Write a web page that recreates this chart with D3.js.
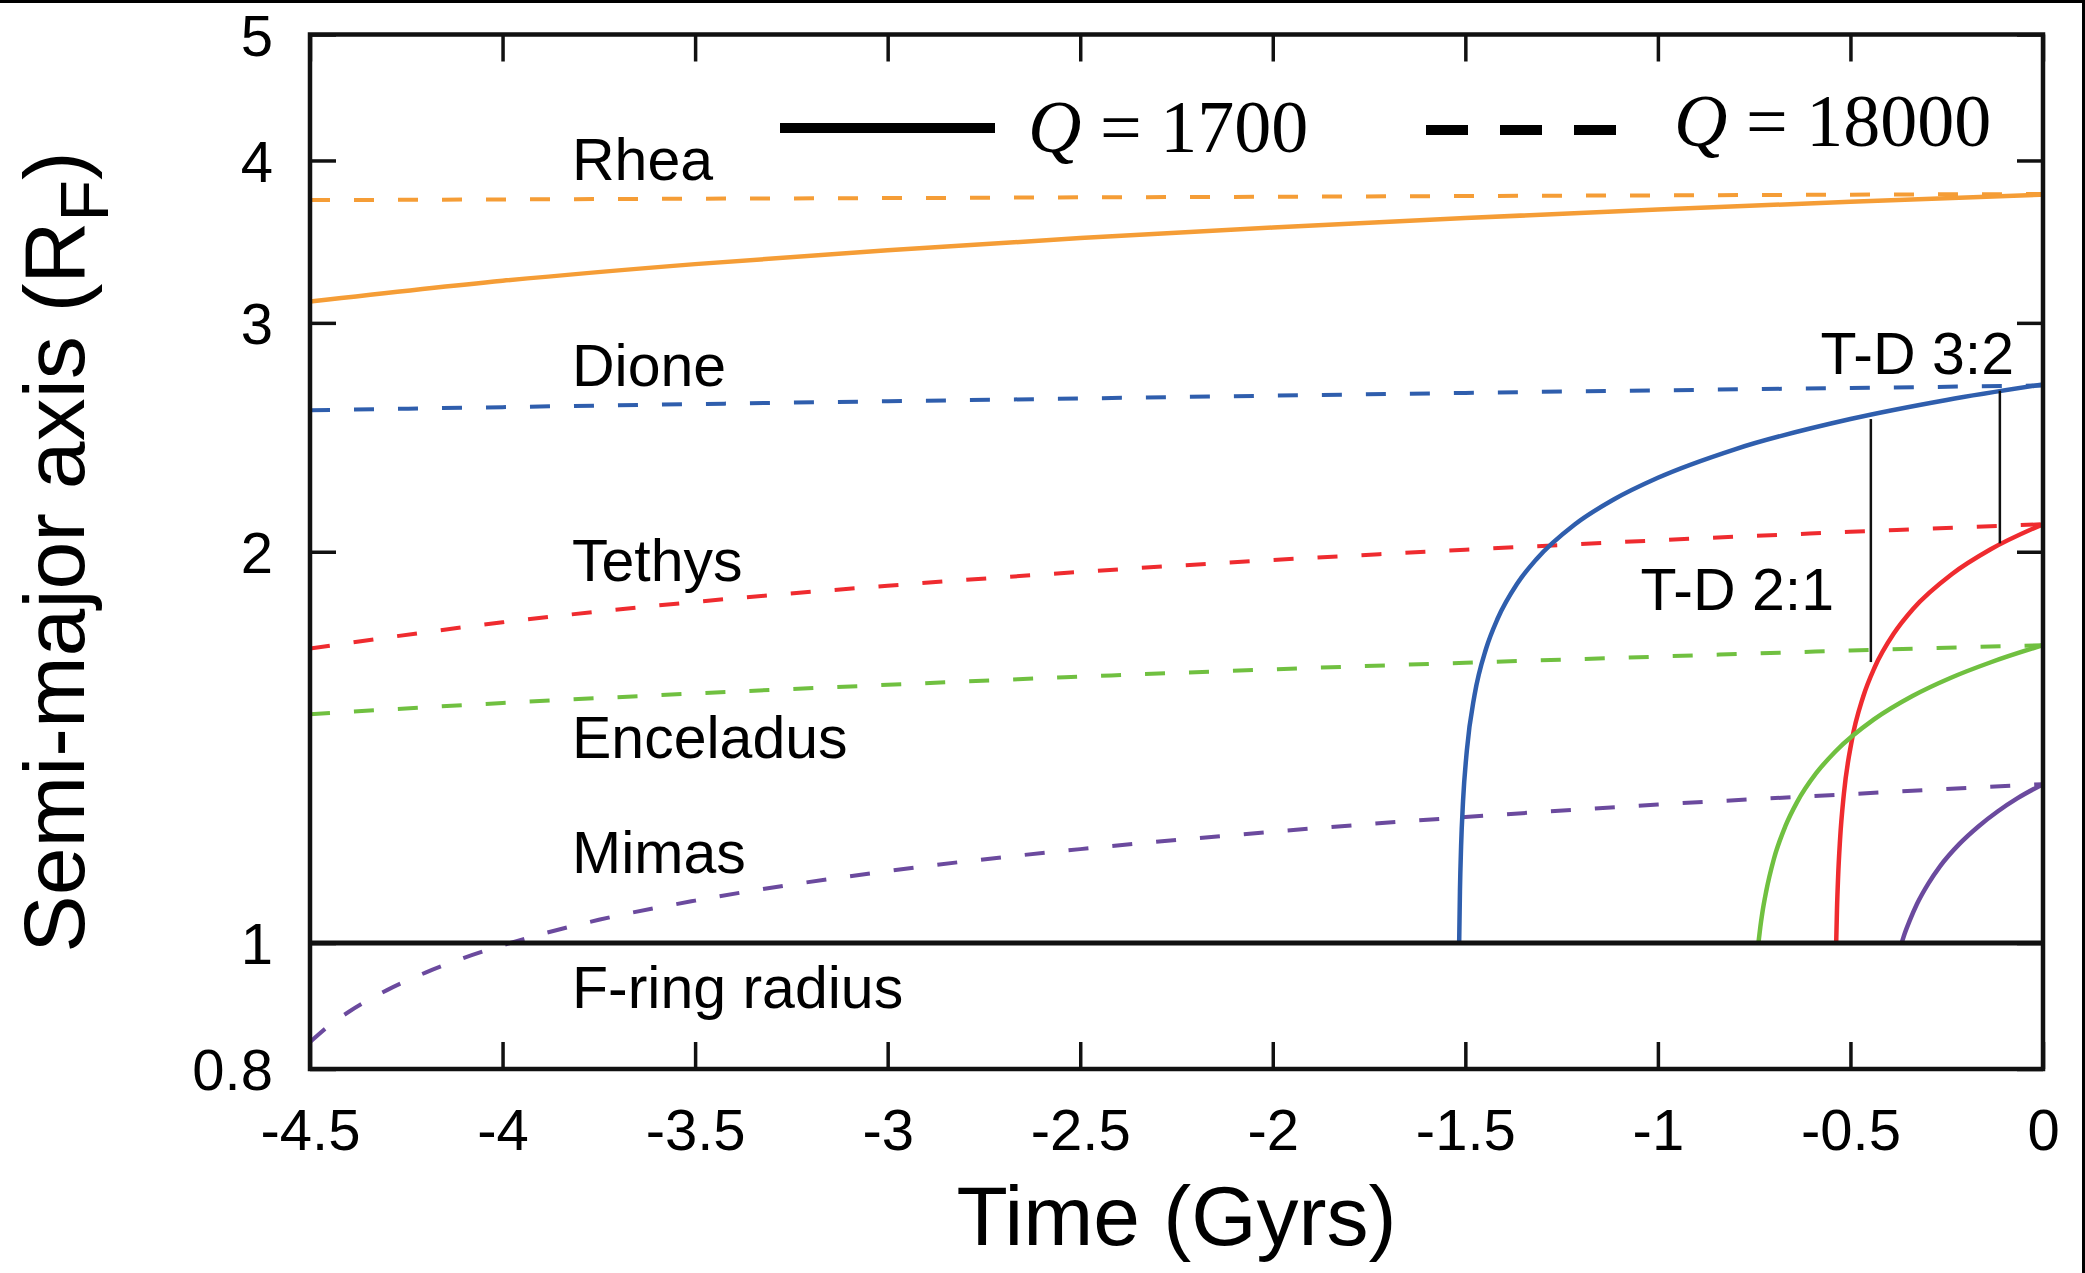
<!DOCTYPE html>
<html>
<head>
<meta charset="utf-8">
<script src="https://cdn.jsdelivr.net/npm/d3@7"></script>
<style>
  body { margin: 0; background: #fff; }
  svg { display: block; }
  text { font-family: "Liberation Sans", Arial, Helvetica, sans-serif; fill: #000; }
  .serif { font-family: "Liberation Serif", "Times New Roman", Times, serif; }
</style>
</head>
<body>
<div id="chart"></div>
<script>
// time grid (Gyrs) shared by the Q = 18000 runs and Rhea
const timeGrid = [-4.5, -4, -3.5, -3, -2.5, -2, -1.5, -1, -0.5, 0];
const timeTicks = [-4.5, -4, -3.5, -3, -2.5, -2, -1.5, -1, -0.5, 0];
const axisTicks = [0.8, 1, 2, 3, 4, 5];

const moonNames = ["Rhea", "Dione", "Tethys", "Enceladus", "Mimas"];
const moonColors = ["#f59d36", "#2f5ead", "#ef2b2f", "#70c040", "#6b4a9e"];

// Q = 18000 (dashed), semi-major axis in F-ring radii
const rheaSlow      = [3.729, 3.733, 3.738, 3.742, 3.747, 3.751, 3.756, 3.760, 3.765, 3.769];
const dioneSlow     = [2.570, 2.584, 2.598, 2.611, 2.624, 2.637, 2.650, 2.662, 2.673, 2.685];
const tethysSlow    = [1.685, 1.765, 1.830, 1.883, 1.930, 1.971, 2.007, 2.041, 2.072, 2.100];
const enceladusSlow = [1.500, 1.530, 1.556, 1.580, 1.603, 1.624, 1.643, 1.661, 1.679, 1.695];
const mimasSlowT    = [-4.5, -4.45, -4.4, -4.3, -4.2, -4.1, -4, -3.75, -3.5, -3, -2.5, -2, -1.5, -1, -0.5, 0];
const mimasSlow     = [0.839, 0.864, 0.885, 0.920, 0.949, 0.974, 0.996, 1.042, 1.078, 1.136, 1.181, 1.218, 1.250, 1.278, 1.302, 1.325];

// Q = 1700 (solid)
const rheaFast = [3.115, 3.232, 3.329, 3.412, 3.486, 3.552, 3.612, 3.667, 3.718, 3.765];
const dioneFastT = [-1.516, -1.514, -1.511, -1.506, -1.496, -1.476, -1.446, -1.416, -1.366, -1.316, -1.216, -1.116, -1.0, -0.8, -0.5, -0.25, 0];
const dioneFast  = [1.0, 1.096, 1.187, 1.285, 1.407, 1.552, 1.685, 1.777, 1.889, 1.973, 2.099, 2.193, 2.280, 2.398, 2.530, 2.617, 2.690];
const tethysFastT = [-0.537, -0.535, -0.532, -0.527, -0.517, -0.497, -0.467, -0.437, -0.387, -0.337, -0.237, -0.137, 0];
const tethysFast  = [1.0, 1.060, 1.125, 1.201, 1.303, 1.429, 1.547, 1.630, 1.731, 1.808, 1.922, 2.008, 2.100];
const enceladusFastT = [-0.739, -0.734, -0.729, -0.719, -0.699, -0.669, -0.639, -0.589, -0.539, -0.439, -0.339, -0.239, -0.139, 0];
const enceladusFast  = [1.0, 1.029, 1.054, 1.095, 1.160, 1.230, 1.283, 1.351, 1.404, 1.486, 1.549, 1.600, 1.643, 1.695];
const mimasFastT = [-0.367, -0.362, -0.357, -0.347, -0.327, -0.297, -0.267, -0.217, -0.167, -0.117, -0.067, 0];
const mimasFast  = [1.0, 1.011, 1.021, 1.039, 1.072, 1.112, 1.146, 1.192, 1.230, 1.263, 1.292, 1.325];

// Tethys-Dione resonance crossings
const resonanceNames = ["T-D 2:1", "T-D 3:2"];
const resonanceT = [-0.447, -0.112];
const resonanceHi = [2.53, 2.66];
const resonanceLo = [1.645, 2.03];

const fRingRadius = 1;
const legendQ = [1700, 18000];

const width = 2085, height = 1273;
const plot = { left: 310, right: 2043, top: 34.5, bottom: 1069 };

const svg = d3.select("#chart").append("svg")
  .attr("width", width)
  .attr("height", height);

const x = d3.scaleLinear().domain([-4.5, 0]).range([plot.left, plot.right]);
const y = d3.scaleLog().domain([0.8, 5]).range([plot.bottom, plot.top]);

svg.append("clipPath").attr("id", "clip")
  .append("rect")
  .attr("x", plot.left).attr("y", plot.top)
  .attr("width", plot.right - plot.left)
  .attr("height", plot.bottom - plot.top);

const series = [
  { slow: d3.zip(timeGrid, rheaSlow),       fast: d3.zip(timeGrid, rheaFast) },
  { slow: d3.zip(timeGrid, dioneSlow),      fast: d3.zip(dioneFastT, dioneFast) },
  { slow: d3.zip(timeGrid, tethysSlow),     fast: d3.zip(tethysFastT, tethysFast) },
  { slow: d3.zip(timeGrid, enceladusSlow),  fast: d3.zip(enceladusFastT, enceladusFast) },
  { slow: d3.zip(mimasSlowT, mimasSlow),    fast: d3.zip(mimasFastT, mimasFast) }
];

const line = d3.line()
  .x(d => x(d[0]))
  .y(d => y(d[1]))
  .curve(d3.curveMonotoneX);

const curves = svg.append("g").attr("clip-path", "url(#clip)");

// dashed Q = 18000
curves.selectAll(".slow")
  .data(series)
  .enter()
  .append("path")
  .attr("class", "slow")
  .attr("fill", "none")
  .attr("stroke", (d, i) => moonColors[i])
  .attr("stroke-width", 4)
  .attr("stroke-dasharray", "20,24")
  .attr("d", d => line(d.slow));

// solid Q = 1700
curves.selectAll(".fast")
  .data(series)
  .enter()
  .append("path")
  .attr("class", "fast")
  .attr("fill", "none")
  .attr("stroke", (d, i) => moonColors[i])
  .attr("stroke-width", 4.5)
  .attr("d", d => line(d.fast));

// F-ring radius
svg.append("line")
  .attr("x1", plot.left).attr("x2", plot.right)
  .attr("y1", y(fRingRadius)).attr("y2", y(fRingRadius))
  .attr("stroke", "#111")
  .attr("stroke-width", 5);

// resonance markers
svg.append("g").selectAll("line")
  .data(resonanceT)
  .enter()
  .append("line")
  .attr("x1", d => x(d)).attr("x2", d => x(d))
  .attr("y1", (d, i) => y(resonanceHi[i]))
  .attr("y2", (d, i) => y(resonanceLo[i]))
  .attr("stroke", "#111")
  .attr("stroke-width", 2.5);

// axes, ticks pointing inward
const tickFont = 58;
const plain = d => String(d);

const bottomAxis = svg.append("g")
  .attr("transform", `translate(0, ${plot.bottom})`)
  .call(d3.axisBottom(x).tickValues(timeTicks).tickSizeInner(-27).tickSizeOuter(0).tickPadding(40)
    .tickFormat(plain));
const topAxis = svg.append("g")
  .attr("transform", `translate(0, ${plot.top})`)
  .call(d3.axisTop(x).tickValues(timeTicks).tickSizeInner(-27).tickSizeOuter(0).tickFormat(""));
const leftAxis = svg.append("g")
  .attr("transform", `translate(${plot.left}, 0)`)
  .call(d3.axisLeft(y).tickValues(axisTicks).tickSizeInner(-26).tickSizeOuter(0).tickPadding(37)
    .tickFormat(plain));
const rightAxis = svg.append("g")
  .attr("transform", `translate(${plot.right}, 0)`)
  .call(d3.axisRight(y).tickValues(axisTicks).tickSizeInner(-26).tickSizeOuter(0).tickFormat(""));

[bottomAxis, topAxis, leftAxis, rightAxis].forEach(a => {
  a.select(".domain").remove();
  a.selectAll(".tick line").attr("stroke", "#111").attr("stroke-width", 3.5);
  a.selectAll("text")
    .attr("font-family", null)
    .attr("font-size", tickFont)
    .attr("fill", "#000");
});
leftAxis.selectAll("text").attr("dy", "0.36em");

// plot frame
svg.append("rect")
  .attr("x", plot.left).attr("y", plot.top)
  .attr("width", plot.right - plot.left)
  .attr("height", plot.bottom - plot.top)
  .attr("fill", "none")
  .attr("stroke", "#111")
  .attr("stroke-width", 4.5);

// moon labels
const labelX = 572;
const labelBaselines = [180, 386, 581, 758, 873];
svg.append("g").selectAll("text")
  .data(moonNames)
  .enter()
  .append("text")
  .attr("x", labelX)
  .attr("y", (d, i) => labelBaselines[i])
  .attr("font-size", 59)
  .text(d => d);

svg.append("text")
  .attr("x", labelX).attr("y", 1008)
  .attr("font-size", 59)
  .text("F-ring radius");

// resonance labels
const resonanceLabelPos = [[1834, 610], [2014, 374]];
svg.append("g").selectAll("text")
  .data(resonanceNames)
  .enter()
  .append("text")
  .attr("x", (d, i) => resonanceLabelPos[i][0])
  .attr("y", (d, i) => resonanceLabelPos[i][1])
  .attr("text-anchor", "end")
  .attr("font-size", 59)
  .text(d => d);

// legend
svg.append("line")
  .attr("x1", 780).attr("x2", 995).attr("y1", 128).attr("y2", 128)
  .attr("stroke", "#000").attr("stroke-width", 10);
svg.append("line")
  .attr("x1", 1426).attr("x2", 1616).attr("y1", 130).attr("y2", 130)
  .attr("stroke", "#000").attr("stroke-width", 10)
  .attr("stroke-dasharray", "42,32");

const legendPos = [[1028, 152], [1674, 146]];
legendQ.forEach((q, i) => {
  const t = svg.append("text")
    .attr("class", "serif")
    .attr("x", legendPos[i][0])
    .attr("y", legendPos[i][1])
    .attr("font-size", 74);
  t.append("tspan").attr("font-style", "italic").text("Q");
  t.append("tspan").text(" = " + q);
});

// axis titles
svg.append("text")
  .attr("x", (plot.left + plot.right) / 2)
  .attr("y", 1245)
  .attr("text-anchor", "middle")
  .attr("font-size", 84)
  .text("Time (Gyrs)");

const yTitle = svg.append("text")
  .attr("transform", "translate(84, 552) rotate(-90)")
  .attr("text-anchor", "middle")
  .attr("font-size", 86);
yTitle.append("tspan").text("Semi-major axis (R");
yTitle.append("tspan").attr("font-size", 68).attr("dy", 24).text("F");
yTitle.append("tspan").attr("dy", -24).text(")");

// outer border (top and right edges of the figure)
svg.append("line")
  .attr("x1", 0).attr("x2", width).attr("y1", 1.5).attr("y2", 1.5)
  .attr("stroke", "#000").attr("stroke-width", 3);
svg.append("line")
  .attr("x1", width - 1.5).attr("x2", width - 1.5).attr("y1", 0).attr("y2", height)
  .attr("stroke", "#000").attr("stroke-width", 3);
</script>
</body>
</html>
